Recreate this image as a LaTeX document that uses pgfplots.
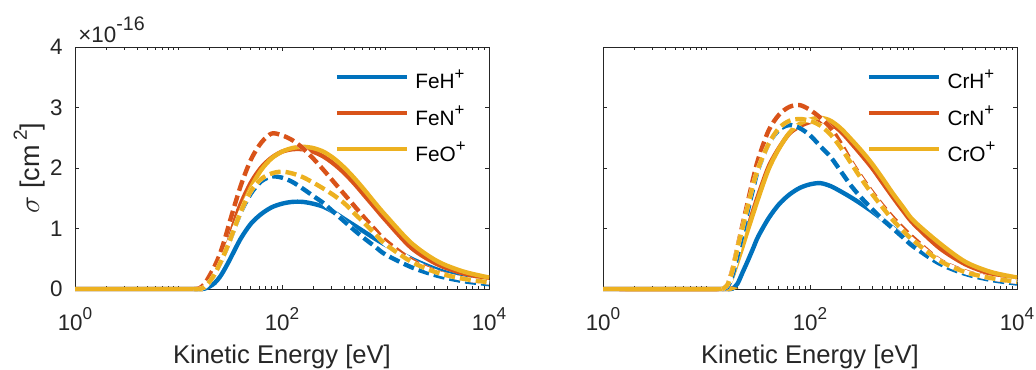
\documentclass[border=0pt]{standalone}
\usepackage{pgfplots}
\pgfplotsset{compat=1.18}
\usepackage{pgfplotstable}
\usepackage{fontspec}
\setmainfont{Liberation Sans}
\definecolor{mblue}{rgb}{0,0.447,0.741}
\definecolor{mred}{rgb}{0.85,0.325,0.098}
\definecolor{myel}{rgb}{0.929,0.694,0.125}
\definecolor{axgray}{rgb}{0.15,0.15,0.15}
\newcommand{\tsup}[1]{\raisebox{0.45em}{\fontsize{8.6}{9}\selectfont #1}}
\newcommand{\lsup}[1]{\raisebox{0.45em}{\fontsize{8.4}{9}\selectfont #1}}
\newcommand{\ysup}[1]{\raisebox{0.45em}{\fontsize{9.5}{10}\selectfont #1}}

% a = X-H+ solid, b = X-N+ solid, c = X-O+ solid, d/e/f = dashed counterparts
\pgfplotstableread{
E a b c d e f
1 0 0 0 0 0 0
14.13 0 0 0 0 0 0
15.85 0 0.004 0 0 0.01 0
17.78 0.005 0.06 0.03 0.03 0.08 0.03
19.95 0.04 0.18 0.12 0.12 0.22 0.12
22.39 0.10 0.33 0.25 0.25 0.38 0.25
25.12 0.20 0.50 0.42 0.42 0.58 0.42
28.18 0.34 0.71 0.61 0.61 0.84 0.61
31.62 0.50 0.93 0.82 0.82 1.14 0.82
39.81 0.83 1.40 1.28 1.26 1.70 1.27
50.12 1.08 1.76 1.68 1.58 2.14 1.62
63.10 1.24 2.01 1.97 1.78 2.42 1.82
79.43 1.35 2.17 2.16 1.86 2.57 1.91
100 1.41 2.27 2.27 1.84 2.54 1.94
125.9 1.44 2.31 2.33 1.77 2.46 1.91
158.5 1.44 2.31 2.35 1.66 2.33 1.85
199.5 1.41 2.27 2.33 1.54 2.16 1.76
251.2 1.36 2.19 2.27 1.42 1.97 1.66
316.2 1.27 2.07 2.16 1.27 1.77 1.55
398.1 1.16 1.92 2.01 1.12 1.57 1.42
501.2 1.05 1.74 1.83 0.97 1.37 1.25
631.0 0.94 1.54 1.63 0.83 1.17 1.08
794.3 0.83 1.34 1.42 0.70 0.98 0.91
1000 0.73 1.14 1.22 0.57 0.80 0.74
1778 0.50 0.68 0.76 0.36 0.48 0.45
3162 0.32 0.41 0.46 0.22 0.28 0.27
5623 0.19 0.26 0.29 0.13 0.17 0.17
10000 0.10 0.17 0.19 0.08 0.11 0.11
}\leftdata

\pgfplotstableread{
E a b c d e f
1 0 0 0 0 0 0
14.13 0 0 0 0 0 0
15.85 0 0.04 0.03 0.03 0.06 0.06
17.78 0.005 0.22 0.20 0.22 0.32 0.30
19.95 0.09 0.50 0.45 0.55 0.70 0.68
22.39 0.28 0.77 0.71 0.92 1.08 1.03
25.12 0.47 1.03 0.98 1.30 1.45 1.38
28.18 0.67 1.29 1.24 1.65 1.82 1.72
31.62 0.87 1.55 1.50 1.98 2.15 2.00
39.81 1.17 2.02 1.98 2.40 2.62 2.40
50.12 1.40 2.33 2.32 2.63 2.88 2.66
63.10 1.56 2.57 2.58 2.71 3.01 2.78
79.43 1.67 2.69 2.73 2.66 3.04 2.81
100 1.73 2.76 2.80 2.54 2.96 2.78
125.9 1.75 2.78 2.83 2.36 2.83 2.70
158.5 1.70 2.73 2.78 2.18 2.66 2.55
199.5 1.61 2.60 2.65 1.94 2.40 2.33
251.2 1.51 2.41 2.47 1.70 2.10 2.07
316.2 1.40 2.21 2.28 1.50 1.84 1.81
398.1 1.28 2.00 2.07 1.32 1.60 1.57
501.2 1.15 1.76 1.83 1.15 1.38 1.35
631.0 1.01 1.52 1.58 1.00 1.18 1.14
794.3 0.88 1.29 1.35 0.85 1.00 0.96
1000 0.75 1.08 1.13 0.70 0.84 0.80
1778 0.47 0.68 0.76 0.42 0.48 0.47
3162 0.28 0.41 0.45 0.25 0.29 0.28
5623 0.17 0.25 0.28 0.15 0.18 0.18
10000 0.10 0.16 0.19 0.09 0.12 0.12
}\rightdata

\pgfplotsset{
  sol/.style={line width=2.2pt, smooth},
  dsh/.style={line width=2.2pt, smooth, dash pattern=on 5.5pt off 2.5pt, forget plot},
  wht/.style={white, line width=2.2pt, smooth, forget plot},
}

\begin{document}
\begin{tikzpicture}
\useasboundingbox (0,0) rectangle (518pt,184.5pt);
\begin{axis}[xmode=log, at={(37.5pt,40pt)}, anchor=south west,
    width=207pt, height=121pt, scale only axis,
    xmin=1, xmax=10000, ymin=0, ymax=4,
    xtick={1,100,10000},
    xticklabels={10\tsup{0},10\tsup{2},10\tsup{4}},
    minor xtick={2,3,4,5,6,7,8,9,10,20,30,40,50,60,70,80,90,200,300,400,500,600,700,800,900,1000,2000,3000,4000,5000,6000,7000,8000,9000},
    ytick={0,1,2,3,4}, yticklabels={0,1,2,3,4},
    tick align=inside, tick pos=both,
    major tick length=2.1pt, minor tick length=1.5pt,
    axis line style={axgray, line width=0.5pt},
    every tick/.style={axgray, line width=0.5pt},
    tick label style={font=\fontsize{11.2}{13}\selectfont, text=axgray},
    xticklabel style={anchor=base, yshift=-20.5pt},
    yticklabel style={anchor=east, inner sep=0pt, xshift=-6pt},
    clip=false,
    legend style={draw=none, fill=none, anchor=north west,
      at={(rel axis cs:0.626,0.9235)},
      font=\fontsize{10.4}{12}\selectfont, text=black,
      row sep=3pt, column sep=1.2pt, inner sep=0pt},
    legend cell align=left,
    legend image code/.code={\draw[#1, line width=2.2pt] (0pt,2pt) -- (35pt,2pt);},
  ]
\addplot[mblue, sol] table[x=E,y=a]{\leftdata}; \addlegendentry{FeH\lsup{+}}
\addplot[mred, sol] table[x=E,y=b]{\leftdata}; \addlegendentry{FeN\lsup{+}}
\addplot[myel, sol] table[x=E,y=c]{\leftdata}; \addlegendentry{FeO\lsup{+}}
\addplot[wht, skip coords between index={0}{1}] table[x=E,y=d]{\leftdata};
\addplot[mblue, dsh, skip coords between index={0}{1}] table[x=E,y=d]{\leftdata};
\addplot[wht, skip coords between index={0}{1}] table[x=E,y=e]{\leftdata};
\addplot[mred, dsh, skip coords between index={0}{1}] table[x=E,y=e]{\leftdata};
\addplot[wht, skip coords between index={0}{1}] table[x=E,y=f]{\leftdata};
\addplot[myel, dsh, skip coords between index={0}{1}] table[x=E,y=f]{\leftdata};
\node[anchor=base west, inner sep=0pt, font=\fontsize{11.2}{13}\selectfont, text=axgray]
  at ([xshift=1.5pt,yshift=2.5pt]rel axis cs:0,1) {×10\raisebox{0.5em}{\fontsize{9.8}{10}\selectfont -16}};
\node[anchor=base, inner sep=0pt, font=\fontsize{12.8}{14}\selectfont, text=axgray]
  at ([yshift=-37pt]rel axis cs:0.5,0) {Kinetic Energy [eV]};
\node[anchor=base, rotate=90, inner sep=0pt, font=\fontsize{13.5}{15}\selectfont, text=axgray]
  at ([xshift=-18pt]rel axis cs:0,0.5) {$\sigma$ [cm\,\ysup{2}]};
\end{axis}

\begin{axis}[xmode=log, at={(301.5pt,40pt)}, anchor=south west,
    width=207pt, height=121pt, scale only axis,
    xmin=1, xmax=10000, ymin=0, ymax=4,
    xtick={1,100,10000},
    xticklabels={10\tsup{0},10\tsup{2},10\tsup{4}},
    minor xtick={2,3,4,5,6,7,8,9,10,20,30,40,50,60,70,80,90,200,300,400,500,600,700,800,900,1000,2000,3000,4000,5000,6000,7000,8000,9000},
    ytick={0,1,2,3,4}, yticklabels={},
    tick align=inside, tick pos=both,
    major tick length=2.1pt, minor tick length=1.5pt,
    axis line style={axgray, line width=0.5pt},
    every tick/.style={axgray, line width=0.5pt},
    tick label style={font=\fontsize{11.2}{13}\selectfont, text=axgray},
    xticklabel style={anchor=base, yshift=-20.5pt},
    clip=false,
    legend style={draw=none, fill=none, anchor=north west,
      at={(rel axis cs:0.636,0.9235)},
      font=\fontsize{10.4}{12}\selectfont, text=black,
      row sep=3pt, column sep=1.2pt, inner sep=0pt},
    legend cell align=left,
    legend image code/.code={\draw[#1, line width=2.2pt] (0pt,2pt) -- (35pt,2pt);},
  ]
\addplot[mblue, sol] table[x=E,y=a]{\rightdata}; \addlegendentry{CrH\lsup{+}}
\addplot[mred, sol] table[x=E,y=b]{\rightdata}; \addlegendentry{CrN\lsup{+}}
\addplot[myel, sol] table[x=E,y=c]{\rightdata}; \addlegendentry{CrO\lsup{+}}
\addplot[wht, skip coords between index={0}{1}] table[x=E,y=d]{\rightdata};
\addplot[mblue, dsh, skip coords between index={0}{1}] table[x=E,y=d]{\rightdata};
\addplot[wht, skip coords between index={0}{1}] table[x=E,y=e]{\rightdata};
\addplot[mred, dsh, skip coords between index={0}{1}] table[x=E,y=e]{\rightdata};
\addplot[wht, skip coords between index={0}{1}] table[x=E,y=f]{\rightdata};
\addplot[myel, dsh, skip coords between index={0}{1}] table[x=E,y=f]{\rightdata};
\node[anchor=base, inner sep=0pt, font=\fontsize{12.8}{14}\selectfont, text=axgray]
  at ([yshift=-37pt]rel axis cs:0.5,0) {Kinetic Energy [eV]};
\end{axis}
\end{tikzpicture}
\end{document}
